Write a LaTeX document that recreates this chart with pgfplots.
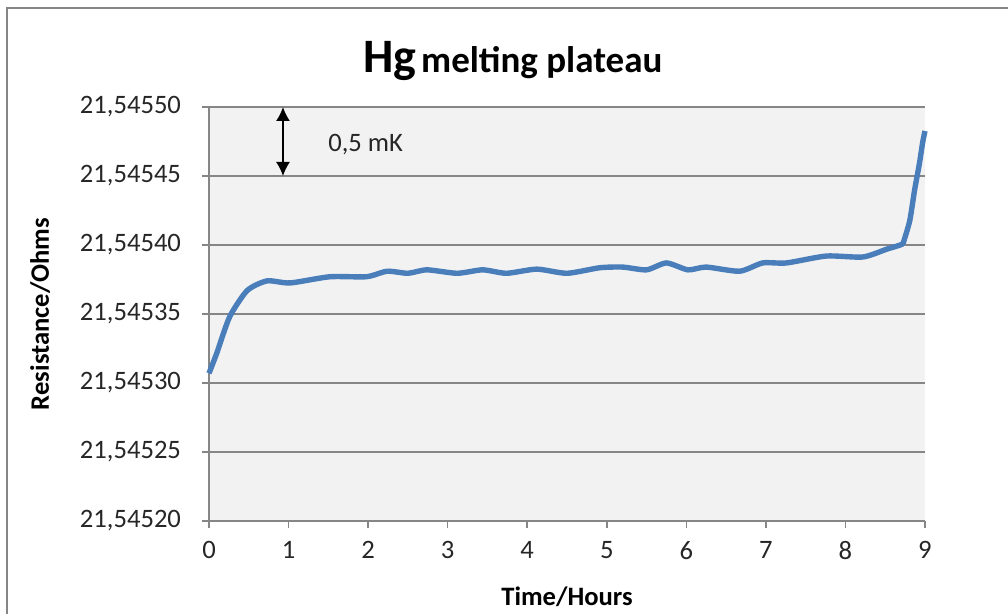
\documentclass[border=0pt]{standalone}
\usepackage{fontspec}
\setmainfont{Carlito}
\usepackage{pgfplots}
\pgfplotsset{compat=1.18}
\usetikzlibrary{arrows.meta}
\definecolor{linecol}{RGB}{74,126,187}
\definecolor{bgcol}{RGB}{242,242,242}
\definecolor{gridcol}{RGB}{134,134,134}
\begin{document}
\begin{tikzpicture}
\useasboundingbox (0,0) rectangle (504pt,307pt);
\draw[gridcol, line width=1.2pt] (3.5pt,-2pt) -- (3.5pt,303pt) -- (506pt,303pt);
% resistance given as (R - 21.545 Ohm) in units of 1e-5 Ohm
\begin{axis}[
  at={(104.5pt,46.5pt)}, anchor=south west,
  scale only axis, width=358pt, height=207pt,
  xmin=0, xmax=9, ymin=20, ymax=50,
  xtick={0,1,...,9},
  ytick={20,25,30,35,40,45,50},
  yticklabels={{21,54520},{21,54525},{21,54530},{21,54535},{21,54540},{21,54545},{21,54550}},
  axis x line*=bottom, axis y line*=left,
  axis line style={gridcol, line width=0.8pt},
  tick style={gridcol, line width=0.8pt},
  tick align=outside, major tick length=3.5pt,
  ymajorgrids, grid style={gridcol, line width=0.8pt},
  axis background/.style={fill=bgcol},
  /pgf/number format/assume math mode=true,
  ticklabel style={font=\fontsize{13.3}{16}\selectfont, text=black!85},
  yticklabel style={xshift=-7pt},
  xticklabel style={yshift=-3pt},
  xlabel={Time/Hours}, ylabel={Resistance/Ohms},
  every axis x label/.style={at={(axis description cs:0.5,0)}, anchor=center, yshift=-38pt, font=\bfseries\fontsize{13.3}{16}\selectfont},
  every axis y label/.style={at={(axis description cs:-0.236,0.5)}, rotate=90, anchor=center, font=\bfseries\fontsize{13.3}{16}\selectfont},
  clip=false,
]
\addplot[linecol, line width=2.7pt, smooth, tension=0.4] coordinates {
(0,30.7) (0.1,32.2) (0.26,34.8) (0.48,36.7) (0.73,37.4) (1.02,37.25)
(1.52,37.7) (1.98,37.7) (2.24,38.1) (2.50,37.95) (2.74,38.2) (3.12,37.95)
(3.44,38.2) (3.74,37.95) (4.12,38.25) (4.50,37.95) (4.91,38.35) (5.20,38.4)
(5.50,38.2) (5.75,38.7) (6.02,38.2) (6.25,38.4) (6.67,38.1) (6.96,38.7)
(7.26,38.7) (7.76,39.2) (8.22,39.13) (8.52,39.7) (8.71,40.05) (8.74,40.4)
(8.81,41.8) (8.87,44.0) (8.93,45.9) (8.97,47.4) (9.0,48.26)
};
\draw[black, line width=0.8pt, {Latex[length=7pt,width=7pt]}-{Latex[length=7pt,width=7pt]}] (axis cs:0.93,50) -- (axis cs:0.93,45);
\node[anchor=west, font=\fontsize{13.3}{16}\selectfont, text=black!85, inner sep=0pt] at (axis cs:1.495,47.25) {0,5 mK};
\end{axis}
\node[anchor=base, inner sep=0pt] at (256.5pt,270.5pt) {\bfseries{\fontsize{24}{28}\selectfont Hg} {\fontsize{18.5}{22}\selectfont melting plateau}};
\end{tikzpicture}
\end{document}
